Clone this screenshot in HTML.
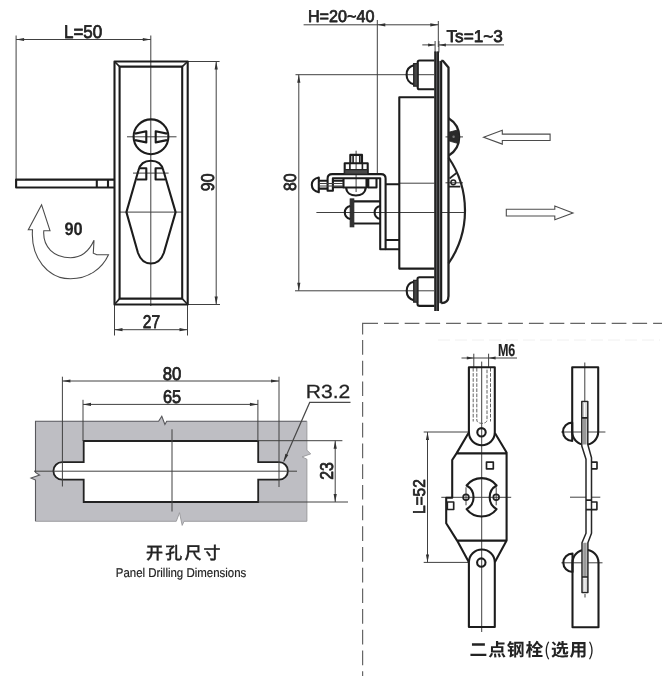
<!DOCTYPE html>
<html lang="zh">
<head>
<meta charset="utf-8">
<title>Panel Drilling Dimensions</title>
<style>
html,body{margin:0;padding:0;background:#fff;}
body{width:662px;height:676px;overflow:hidden;position:relative;font-family:"Liberation Sans","Noto Sans CJK SC",sans-serif;}
svg{position:absolute;left:0;top:0;display:block;}
text{-webkit-font-smoothing:antialiased;text-rendering:geometricPrecision;}
.k{stroke:#1e1e1e;stroke-width:2.1;fill:none;stroke-linejoin:round;stroke-linecap:butt;}
.m{stroke:#222;stroke-width:1.65;fill:none;stroke-linejoin:round;}
.t{stroke:#404040;stroke-width:1;fill:none;}
.o{stroke:#4c4c4c;stroke-width:1.1;fill:#fff;stroke-linejoin:miter;}
.a{fill:#333;stroke:none;}
.d{stroke:#666;stroke-width:1.2;fill:none;}
text{font-family:"Liberation Sans","Noto Sans CJK SC",sans-serif;fill:#222;}
.n{font-size:18.5px;stroke:#222;stroke-width:0.75;stroke-linejoin:round;}
.cj{font-family:"Liberation Sans","Noto Sans CJK SC",sans-serif;}
</style>
</head>
<body>
<svg width="662" height="676" viewBox="0 0 662 676">
<defs><filter id="soft" x="0" y="0" width="662" height="676" filterUnits="userSpaceOnUse"><feGaussianBlur stdDeviation="0.45"/></filter></defs>
<rect x="0" y="0" width="662" height="676" fill="#fff"/>
<g filter="url(#soft)">

<!-- ================= FRONT VIEW (top-left) ================= -->
<g id="front">
  <!-- thin extension / centre lines -->
  <path class="t" d="M16.1 35.5V180 M150.8 35.5V306 M16.1 39.5H150.8 M188 61.500H219.600 M188 304.500H220 M216.200 61.500V304.500 M114.500 305V335.500 M187.500 305V335.500 M114.500 329.700H187.500 M127 136.8H176.5 M133 173.1H168.6 M119.600 212.100H182.200"/>
  <!-- arrow heads -->
  <path class="a" d="M16.1 39.5l8-1.6v3.2z M150.8 39.5l-8-1.6v3.2z M216.200 61.500l-1.600 8h3.200z M216.200 304.500l-1.600-8h3.200z M114.500 329.700l8-1.600v3.200z M187.500 329.700l-8-1.600v3.200z"/>
  <!-- frame -->
  <rect class="k" x="114.500" y="61.500" width="73.200" height="243"/>
  <rect class="k" x="119.600" y="66.600" width="62.600" height="232"/>
  <path class="m" d="M114.500 61.500L119.600 66.600 M187.700 61.500L182.200 66.600 M114.500 304.500L119.600 298.600 M187.700 304.500L182.200 298.600"/>
  <!-- lock circle -->
  <circle class="k" cx="151" cy="136.800" r="17.400"/>
  <path class="k" d="M135 133.600L146.300 131.200V142.400L135 140.100 M167 133.600L155.700 131.200V142.400L167 140.100"/>
  <!-- handle -->
  <path class="k" d="M150.9 160.8C144 160.8 139.8 165 138.4 170.5L126.4 212.1L138 253C140.5 260 145 263.5 150.9 263.5C156.8 263.5 161.3 260 163.8 253L175.6 212.1L163.4 170.5C162 165 157.800 160.8 150.9 160.8Z"/>
  <path class="k" d="M139.8 168.2H146.3V179.5H136.8 M162 168.2H155.6V179.5H165"/>
  <!-- lever -->
  <path class="k" d="M114.500 179.600H16.100V187.500H114.500 M96.800 179.600V187.500 M108 179.600V187.500"/>
  <!-- rotation arrow -->
  <path class="o" d="M41.600 204.8L28.300 229.800H32.500C30.500 258 48 278.800 70.500 278.800C88 278.800 102 269 108.500 254.700H96.800L93.300 253.200L94 240.300C89 251.500 81 257.700 70.500 257.700C54 257.700 42.500 247 43.800 230.700H50L41.600 204.800Z"/>
</g>

<!-- ================= SIDE VIEW (top-right) ================= -->
<g id="side">
  <path class="t" d="M303.600 24.800H438.300 M377.300 20V175 M438.300 21V47 M422.300 44.900H435.100 M438.900 44.900H504 M435.100 41V52.500 M438.900 41V52.500 M295.500 74.700H434 M295 290.800H434 M298.800 74.700V290.800 M316.400 212.500H464 M399 183.200H434.500 M445.500 136.900H463 M445.500 182.800H463 M356.100 150.700V192"/>
  <path class="a" d="M377.300 24.800l8-1.600v3.200z M438.300 24.800l-8-1.600v3.200z M435.100 44.900l-7-1.500v3z M438.900 44.900l7-1.500v3z M298.800 74.700l-1.600 8h3.200z M298.800 290.800l-1.600-8h3.200z"/>
  <!-- panel -->
  <rect x="434.400" y="51.500" width="4.600" height="259.500" fill="#55565a"/>
  <rect x="439" y="60.900" width="2" height="242.300" fill="#77787b"/>
  <path d="M435.200 51.500V311 M438.100 51.500V311" stroke="#222" stroke-width="1.700" fill="none"/>
  <!-- flange -->
  <path class="k" d="M441.200 60.900V303.200"/>
  <path d="M441.200 60.900H443L448.500 67.500V296C448.500 300 446 303 441.200 303.200" fill="none" stroke="#242424" stroke-width="2.300" stroke-linejoin="round"/>
  <!-- lock cylinder dome -->
  <path d="M448.500 118.300A21.800 21.800 0 0 1 448.500 155.800" fill="none" stroke="#222" stroke-width="2.300"/>
  <path d="M448.500 132.300L458.300 129.800Q460.200 136.600 458.300 143.600L448.500 140.800Z" fill="#2c2c2c" stroke="#242424" stroke-width="0.800" stroke-linejoin="round"/>
  <circle cx="453.600" cy="136.700" r="1.200" fill="#777"/>
  <!-- handle arc -->
  <path d="M448.500 157.500A93.400 93.400 0 0 1 448.500 263.500" fill="none" stroke="#242424" stroke-width="2.200"/>
  <circle cx="453.300" cy="182.300" r="2.400" fill="none" stroke="#242424" stroke-width="1.500"/>
  <path class="m" d="M449 186.600H460.300 M449.500 178.500L456.500 173"/>
  <!-- body -->
  <path class="k" d="M434.500 97.300H399.300V268.600H434.500"/>
  <!-- top bolt -->
  <path class="k" d="M434.500 60.500H419.500Q417.700 60.500 417.700 62.300V87.500Q417.700 89.300 419.500 89.300H434.500"/>
  <path d="M413.700 63.600H417.700V86.200H413.700Z" fill="#444" stroke="#262626" stroke-width="1.300"/>
  <path class="k" d="M413.700 65.300C409 66.500 406.600 70.500 406.600 74.700C406.600 79 409 83.200 413.700 84.300"/>
  <!-- bottom bolt -->
  <path class="k" d="M434.500 277.300H419.500Q417.500 277.300 417.500 279.100V304.100Q417.500 305.900 419.500 305.900H434.500"/>
  <path d="M413.700 280.400H417.500V302.200H413.700Z" fill="#444" stroke="#262626" stroke-width="1.300"/>
  <path class="k" d="M413.700 281.800C409 283 406.700 286.800 406.700 290.800C406.700 295 409 299 413.700 300.200"/>
  <!-- bracket -->
  <path class="k" d="M327.600 190.700V178.600Q327.600 174.100 332.200 174.100H381Q385.600 174.100 385.600 178.600V249.200H380.200V178.300H332.900V190.700Z"/>
  <path class="k" d="M385.600 184.300H399.300 M385.600 240H399.300 M385.600 249.200H399.300"/>
  <!-- nut -->
  <path class="k" d="M344.700 174.100V163.300H367.700V174.100 M350.300 163.300V154.900H362V163.300"/>
  <path d="M344.700 169.600H367.700V174.100H344.700Z" fill="#4a4a4a" stroke="#262626" stroke-width="1.200"/>
  <path class="m" d="M349.900 163.300V169.600 M362.400 163.300V169.600 M353.100 154.900V163.300 M359.800 154.900V163.300"/>
  <!-- left screw -->
  <path class="k" d="M318.800 177.500C314 178.500 311.800 181.500 311.800 184.800C311.800 188.200 314 191.200 318.800 192.200Z"/>
  <path class="k" d="M318.800 180.800H327.800 M318.800 188.600H327.800 M333 180.700H343.500 M333 187.300H343.500"/>
  <path class="k" d="M343.500 178.500V187.500H366.500V178.500 M368.300 178.500V187.500H376.500V178.500"/>
  <path class="t" d="M318.800 183.500H343 M318.800 186H343"/>
  <path class="k" d="M346.100 187.500C346.500 193 351 195.500 355.900 195.500C361 195.500 365.300 193 365.700 187.500"/>
  <!-- lower cylinder -->
  <path class="k" d="M353.800 201.400H380.200 M353.800 223.500H380.200"/>
  <rect x="350.200" y="198.900" width="3.600" height="27.900" fill="#333" stroke="#262626" stroke-width="1"/>
  <path class="k" d="M350.200 206C346.500 207 344.800 209.500 344.800 212.500C344.800 215.500 346.500 218 350.200 219"/>
  <path class="k" d="M380.100 206C376.300 207 374.600 209.500 374.600 212.500C374.600 215.500 376.300 218 380.100 219"/>
  <!-- big arrows -->
  <path class="o" d="M483.600 137.200L502.300 130.300V134.100H550.100V140.500H502.300V144.100Z"/>
  <path class="o" d="M573 213L554.800 206.100V209.300H506.300V216H554.800V219.700Z"/>
</g>

<!-- ================= PANEL DRILLING (bottom-left) ================= -->
<g id="drill">
  <path d="M35.500 421.200H158.600L161.800 416.300L164.900 424.500L166.700 421.200H306.900V450.100L310.700 453.900L302 456.900L306.900 459.200V521.300H184L182.200 525.400L179.500 512.700L176.300 521.300H35.500V480L31 478L39.600 475L35.500 472.400Z" fill="#bebec3" stroke="none"/>
  <path d="M35.500 521.300V480L31 478L39.600 475L35.500 472.400V421.200H158.600L161.800 416.300L164.900 424.500L166.700 421.200H306.900" fill="none" stroke="#58585c" stroke-width="1.100" stroke-linejoin="miter"/>
  <path d="M306.900 421.200V450.100L310.700 453.900L302 456.900L306.900 459.200V521.300H184L182.200 525.400L179.500 512.700L176.300 521.300H35.500" fill="none" stroke="#97979b" stroke-width="0.900" stroke-linejoin="miter"/>
  <!-- cut-out -->
  <path d="M83.700 441H258.200V462.200H279.200A8.700 8.700 0 0 1 279.200 479.600H258.200V502H83.700V479.600H62.100A8.700 8.700 0 0 1 62.100 462.200H83.700Z" fill="#fff" stroke="#222" stroke-width="1.800" stroke-linejoin="miter"/>
  <path class="t" d="M62.400 376.700V486.500 M279 376.700V487 M83 399.800V441 M257.900 399.800V441 M62.400 381H279 M83 404.400H257.900 M34 471.200H297 M172 429.300V511.500 M258.200 440.700H342.400 M258.200 502H348 M335.200 440.700V502 "/>
  <path d="M350.500 402.400H309.700L283.700 461.600" fill="none" stroke="#484848" stroke-width="1.200"/>
  <path class="a" d="M62.400 381l8-1.600v3.200z M279 381l-8-1.600v3.200z M83 404.400l8-1.600v3.200z M257.900 404.400l-8-1.600v3.200z M335.200 440.700l-1.600 8h3.200z M335.200 502l-1.600-8h3.200z M283.700 461.600l1.700-7.800l2.900 1.300z"/>
</g>

<!-- ================= TWO-POINT BOLT (bottom-right) ================= -->
<g id="bolt">
  <!-- dashed frame -->
  <path class="d" d="M362.600 334.500V323.300H378"/>
  <path class="d" d="M384 323.300H662" stroke-dasharray="14.700 6"/>
  <path class="d" d="M362.600 340V676" stroke-dasharray="14.700 6"/>
  <path d="M438 340H660" stroke="#f0f0f0" stroke-width="1" stroke-dasharray="12 5" fill="none"/>
  <!-- front view -->
  <path class="t" d="M481.700 361.600V632 M461.500 358H517 M473.800 353.700V367 M488.600 353.700V367 M423.700 432H469 M423.700 562.400H469 M427.500 432V562.400 M441.300 497.300H511.200 M466 487.300V505.300 M496.200 487.300V505.300"/>
  <path class="a" d="M473.800 358l-7-1.500v3z M488.600 358l7-1.500v3z M427.500 432l-1.600 8h3.200z M427.500 562.400l-1.600-8h3.200z"/>
  <path d="M473.200 368V421.500 M476.800 368V420C476.800 424.500 487 424.500 487 420V368 M490.500 368V421.500" stroke="#5a5a5a" stroke-width="0.950" stroke-dasharray="3.600 1.500" fill="none"/>
  <!-- top rod -->
  <path class="k" d="M468.900 432.300V367.200H494.800V432.300A12.950 12.950 0 0 1 468.900 432.300Z"/>
  <circle class="k" cx="481.500" cy="432.300" r="4.200"/>
  <!-- plate -->
  <path class="k" d="M468.500 433L456.500 453.400L452.200 460V497.800H446.200V523.200L457.100 540.600L468.900 562.200 M494.900 433L506.600 452.500V540.600L494.800 562.200 M456.500 453.400H506.600 M457.100 540.600H506.600"/>
  <rect class="m" x="486.500" y="462.100" width="6.800" height="6.800"/>
  <rect class="m" x="447.300" y="502" width="6.400" height="7.500"/>
  <!-- centre cut-out -->
  <path class="k" d="M466.600 485.500A19 19 0 0 1 496.600 485.500A13.500 13.500 0 0 0 496.600 509.100A19 19 0 0 1 466.600 509.100A13.500 13.500 0 0 0 466.600 485.500Z"/>
  <circle class="m" cx="466" cy="497.300" r="2.900"/>
  <circle class="m" cx="496.200" cy="497.300" r="2.900"/>
  <!-- bottom rod -->
  <path class="k" d="M468.900 562.500V627H494.800V562.500A12.950 12.950 0 0 0 468.900 562.500Z"/>
  <circle class="k" cx="481.300" cy="562.600" r="4.200"/>

  <!-- side view -->
  <path class="t" d="M584.800 362.500V434.600 M561.200 432H605.400 M570 497.200H600.300 M561.400 562.800H602.500 M585 594V597.500"/>
  <path class="k" d="M572.200 431.800V367.300H598.200V431.800A13 13 0 0 1 572.200 431.800Z" fill="#fff"/>
  <path class="k" d="M572.200 422.600A9.200 9.200 0 0 0 572.200 441Z"/>
  <path class="k" d="M572.500 562.800V627.200H598.500V562.800A13 13 0 0 0 572.500 562.800Z" fill="#fff"/>
  <path class="k" d="M572.500 553.600A9.200 9.200 0 0 0 572.500 572Z"/>
  <!-- plate side -->
  <path d="M581.800 401.500H587.800V444.500L591.500 457.700V533.300L587.900 542.700V592.400H582V542.700L586 533.300V459.200L581.800 446Z" fill="#fff" stroke="#262626" stroke-width="1.500" stroke-linejoin="round"/>
  <path d="M583 417.800H586.600V444.500H583Z M583.200 542.700H586.700V577H583.200Z" fill="#999" stroke="none"/>
  <path d="M583.600 403V417 M586 403V417 M583.800 578.500V591 M586.100 578.500V591" stroke="#aaa" stroke-width="0.800"/>
  <path class="m" d="M581.800 417.800H587.800 M582 577H587.900"/>
  <path class="m" d="M591.500 462.100H597V468.800H591.500 M586 500.100H591.500 M591.500 502H596.900V509.600H586"/>
</g>

<!-- ================= TEXT ================= -->
<g id="labels" opacity="0.999">
  <text class="n" x="83.100" y="38.100" text-anchor="middle" textLength="38.200" lengthAdjust="spacingAndGlyphs">L=50</text>
  <text class="n" x="73.600" y="234.500" text-anchor="middle" textLength="18.200" lengthAdjust="spacingAndGlyphs" style="font-size:18px;font-weight:bold;stroke-width:0.2">90</text>
  <text class="n" x="151.500" y="328" text-anchor="middle" textLength="17.300" lengthAdjust="spacingAndGlyphs">27</text>
  <text class="n" transform="translate(214.300 182.300) rotate(-90)" text-anchor="middle" textLength="17.800" lengthAdjust="spacingAndGlyphs">90</text>
  <text class="n" x="341.200" y="22.400" text-anchor="middle" textLength="66.500" lengthAdjust="spacingAndGlyphs" style="font-size:17px">H=20~40</text>
  <text class="n" x="474.700" y="42" text-anchor="middle" textLength="56.400" lengthAdjust="spacingAndGlyphs" style="font-size:17px">Ts=1~3</text>
  <text class="n" transform="translate(295.900 182.300) rotate(-90)" text-anchor="middle" textLength="17.600" lengthAdjust="spacingAndGlyphs" style="font-size:17.500px">80</text>
  <text class="n" x="172" y="379.600" text-anchor="middle" textLength="18.600" lengthAdjust="spacingAndGlyphs">80</text>
  <text class="n" x="172" y="402.600" text-anchor="middle" textLength="18.200" lengthAdjust="spacingAndGlyphs">65</text>
  <text x="305.700" y="398" textLength="44.600" lengthAdjust="spacingAndGlyphs" style="font-size:19px" stroke="#222" stroke-width="0.250">R3.2</text>
  <text class="n" transform="translate(333.100 471) rotate(-90)" text-anchor="middle" textLength="17.600" lengthAdjust="spacingAndGlyphs">23</text>
  <text class="n" x="506.600" y="356.400" text-anchor="middle" textLength="17.400" lengthAdjust="spacingAndGlyphs" style="font-size:17.500px;font-weight:bold;stroke-width:0.15">M6</text>
  <text class="n" transform="translate(425 496.600) rotate(-90)" text-anchor="middle" textLength="35" lengthAdjust="spacingAndGlyphs" style="font-size:17px">L=52</text>
  <text class="cj" x="183.300" y="559.300" text-anchor="middle" textLength="74.500" lengthAdjust="spacing" style="font-size:17px;font-weight:500" stroke="#222" stroke-width="0.300">开孔尺寸</text>
  <text x="181" y="577.200" text-anchor="middle" textLength="130.500" lengthAdjust="spacingAndGlyphs" style="font-size:12.800px" fill="#222" stroke="#222" stroke-width="0.200">Panel Drilling Dimensions</text>
  <text class="cj" x="469.600" y="656.300" textLength="124.600" lengthAdjust="spacing" style="font-size:17.800px;font-weight:bold">二点钢栓<tspan style="font-family:'Noto Sans CJK SC',sans-serif;font-weight:normal">(</tspan>选用<tspan style="font-family:'Noto Sans CJK SC',sans-serif;font-weight:normal">)</tspan></text>
</g>
</g>
</svg>
</body>
</html>
